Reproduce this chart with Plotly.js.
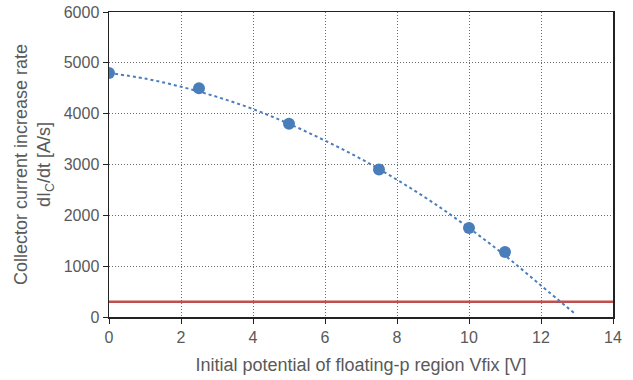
<!DOCTYPE html>
<html><head><meta charset="utf-8">
<script src="https://cdn.plot.ly/plotly-3.0.1.min.js"></script>
<style>html,body{margin:0;padding:0;background:#fff}#c{width:633px;height:380px}</style>
</head><body><div id="c"></div>
<script>
const vfix = [0, 2.5, 5, 7.5, 10, 11];
const dIdt = [4800, 4500, 3800, 2900, 1750, 1280];
const trendX = [0, 1, 2, 3, 4, 5, 6, 7, 8, 9, 10, 11, 12, 12.95];
const trendY = [4800, 4690, 4530, 4330, 4090, 3800, 3470, 3110, 2700, 2250, 1750, 1210, 620, 60];
const limitX = [0, 14];
const limitY = [300, 300];

const blue = '#4a7ebb';
const data = [
  {x: limitX, y: limitY, mode: 'lines', line: {color: '#c0504d', width: 2.5}, hoverinfo: 'skip'},
  {x: trendX, y: trendY, mode: 'lines', line: {color: blue, width: 2, dash: 'dot', shape: 'spline'}},
  {x: vfix, y: dIdt, mode: 'markers', marker: {color: blue, size: 12}}
];
const tickFont = {family: 'Liberation Sans, Arial, sans-serif', color: '#595959', size: 16};
const titleFont = {family: 'Liberation Sans, Arial, sans-serif', color: '#595959', size: 18};
const layout = {
  width: 633, height: 380,
  margin: {l: 109, r: 20, t: 12, b: 63},
  showlegend: false,
  paper_bgcolor: '#fff', plot_bgcolor: '#fff',
  font: tickFont,
  xaxis: {
    range: [0, 14], dtick: 2, tick0: 0,
    showgrid: true, gridcolor: '#6f6f6f', griddash: '1px,2px', gridwidth: 1,
    showline: true, linecolor: '#222', linewidth: 1.5, mirror: true,
    ticks: 'outside', ticklen: 5, tickcolor: '#222',
    tickfont: tickFont, zeroline: false,
    title: {text: 'Initial potential of floating-p region Vfix [V]', font: titleFont, standoff: 13}
  },
  yaxis: {
    range: [0, 6000], dtick: 1000,
    showgrid: true, gridcolor: '#6f6f6f', griddash: '1px,2px', gridwidth: 1,
    showline: true, linecolor: '#222', linewidth: 1.5, mirror: true,
    ticks: 'outside', ticklen: 5, tickcolor: '#222',
    tickfont: tickFont, zeroline: false,
    title: {text: 'Collector current increase rate<br>dI<sub>C</sub>/dt [A/s]', font: titleFont, standoff: 8}
  }
};
Plotly.newPlot('c', data, layout, {displayModeBar: false, staticPlot: true});
</script></body></html>
